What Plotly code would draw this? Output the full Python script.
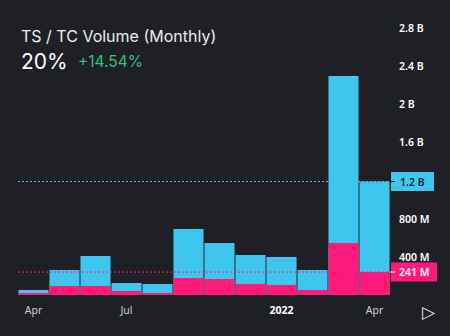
import plotly.graph_objects as go

# ---- data ----
months = ["2021-04", "2021-05", "2021-06", "2021-07", "2021-08", "2021-09",
          "2021-10", "2021-11", "2022-01", "2022-02", "2022-03", "2022-04"]
tc_volume = [53e6, 263e6, 410e6, 126e6, 116e6, 693e6, 546e6, 420e6, 399e6, 263e6, 2301e6, 1192e6]
ts_volume = [21e6, 95e6, 95e6, 42e6, 21e6, 179e6, 168e6, 116e6, 105e6, 53e6, 546e6, 241e6]
x_tick_vals = ["2021-04", "2021-07", "2022-01", "2022-04"]
x_tick_text = ["Apr", "Jul", "<b><span style='color:#ffffff'>2022</span></b>", "Apr"]
y_tick_vals = [400e6, 800e6, 1.6e9, 2.0e9, 2.4e9, 2.8e9]
y_tick_text = ["400 M", "800 M", "1.6 B", "2 B", "2.4 B", "2.8 B"]
last_tc_label = "1.2 B"
last_ts_label = "241 M"

BG = "#1f2026"
CYAN = "#3ec6ee"
PINK = "#ff1a7c"
GREEN = "#2ec27e"

fig = go.Figure()
fig.add_trace(go.Bar(x=months, y=tc_volume, marker=dict(color=CYAN, line=dict(width=0)), name="TC"))
fig.add_trace(go.Bar(x=months, y=ts_volume, marker=dict(color=PINK, line=dict(width=0)), name="TS"))

last_tc = tc_volume[-1]
last_ts = ts_volume[-1]

shapes = [
    dict(type="line", xref="paper", yref="y", x0=0, x1=1, y0=last_tc, y1=last_tc,
         line=dict(color=CYAN, width=1, dash="2px,2px"), layer="above"),
    dict(type="line", xref="paper", yref="y", x0=0, x1=1, y0=last_ts, y1=last_ts,
         line=dict(color=PINK, width=1, dash="2px,2px"), layer="above"),
    # value boxes
    dict(type="rect", xref="paper", yref="y", xsizemode="pixel", ysizemode="pixel",
         xanchor=1, yanchor=last_tc, x0=1, x1=44, y0=-9.5, y1=9.5,
         fillcolor=CYAN, line=dict(width=0), layer="above"),
    dict(type="line", xref="paper", yref="y", xsizemode="pixel", ysizemode="pixel",
         xanchor=1, yanchor=last_tc, x0=0, x1=5, y0=0, y1=0,
         line=dict(color=BG, width=1), layer="above"),
    dict(type="rect", xref="paper", yref="y", xsizemode="pixel", ysizemode="pixel",
         xanchor=1, yanchor=last_ts, x0=1, x1=47, y0=-9.5, y1=9.5,
         fillcolor=PINK, line=dict(width=0), layer="above"),
    dict(type="line", xref="paper", yref="y", xsizemode="pixel", ysizemode="pixel",
         xanchor=1, yanchor=last_ts, x0=0, x1=5, y0=0, y1=0,
         line=dict(color="#ffffff", width=1), layer="above"),
]

annotations = [
    dict(text=last_tc_label, xref="paper", yref="y", x=1, y=last_tc, xanchor="center",
         xshift=22.5, yanchor="middle", showarrow=False,
         font=dict(family="Noto Sans", size=10.5, color=BG, weight=600)),
    dict(text=last_ts_label, xref="paper", yref="y", x=1, y=last_ts, xanchor="center",
         xshift=24, yanchor="middle", showarrow=False,
         font=dict(family="Noto Sans", size=10.5, color="#ffffff", weight=600)),
    dict(text="TS / TC Volume (Monthly)", xref="paper", yref="paper", x=0.003, y=0.942,
         xanchor="left", yanchor="middle", showarrow=False,
         font=dict(family="Inter", size=16, color="#ececec")),
    dict(text="20%", xref="paper", yref="paper", x=0.003, y=0.849,
         xanchor="left", yanchor="middle", showarrow=False,
         font=dict(family="Inter", size=21, color="#ffffff")),
    dict(text="+14.54%", xref="paper", yref="paper", x=0.156, y=0.849,
         xanchor="left", yanchor="middle", showarrow=False,
         font=dict(family="Inter", size=15.5, color=GREEN)),
    dict(text="▷", xref="paper", yref="paper", x=1.104, y=-0.063,
         xanchor="center", yanchor="middle", showarrow=False,
         font=dict(family="DejaVu Sans", size=17, color="#e6e6e6")),
]

fig.update_layout(
    width=450, height=336,
    margin=dict(l=18, r=60, t=20, b=41),
    paper_bgcolor=BG, plot_bgcolor=BG,
    barmode="overlay", bargap=0.03,
    showlegend=False,
    shapes=shapes,
    annotations=annotations,
    xaxis=dict(type="category", categoryorder="array", categoryarray=months,
               tickvals=x_tick_vals, ticktext=x_tick_text,
               showgrid=False, zeroline=False, showline=False, ticks="",
               ticklabelstandoff=7,
               tickfont=dict(family="Noto Sans", size=10.5, color="#cfcfcf"),
               range=[-0.5, len(months) - 0.5], fixedrange=True),
    yaxis=dict(side="right", range=[0, 2.889e9],
               tickvals=y_tick_vals, ticktext=y_tick_text,
               showgrid=False, zeroline=False, showline=False, ticks="",
               ticklabelstandoff=8,
               tickfont=dict(family="Noto Sans", size=10.5, color="#ffffff", weight=600),
               fixedrange=True),
)

fig.write_html("out.html", config={"displayModeBar": False})
